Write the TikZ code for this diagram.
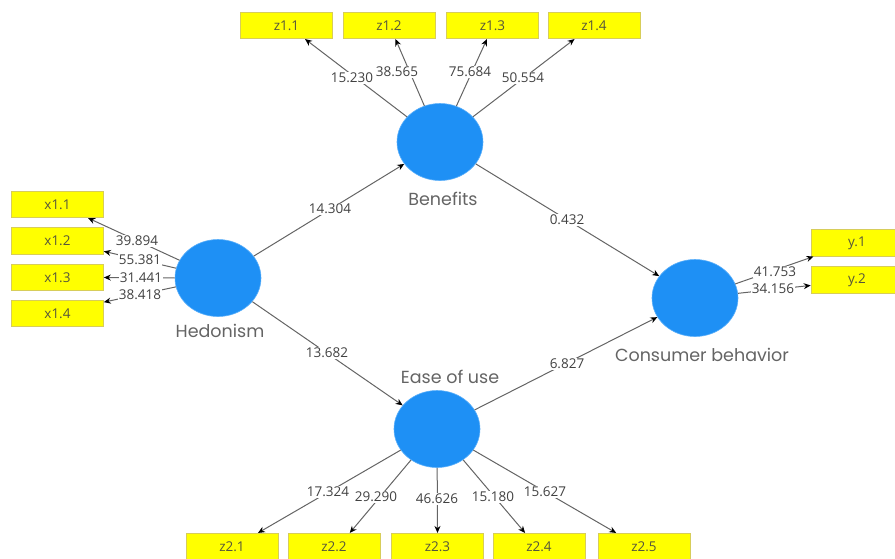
\documentclass[tikz,border=0pt]{standalone}
\usepackage{fontspec}
\setmainfont{Open Sans}
\newfontfamily\namefont{Poppins}
\usetikzlibrary{shapes.geometric,arrows.meta,calc}
\definecolor{lvblue}{RGB}{30,144,245}
\definecolor{lvedge}{RGB}{90,175,250}
\definecolor{boxyellow}{RGB}{255,255,0}
\definecolor{boxedge}{RGB}{215,205,90}
\definecolor{boxtext}{RGB}{85,85,60}
\definecolor{linegray}{RGB}{100,100,100}
\definecolor{labgray}{RGB}{65,65,65}
\definecolor{namegray}{RGB}{100,100,100}
\tikzset{
  latent/.style={ellipse, fill=lvblue, draw=lvedge, line width=0.6pt, minimum width=86pt, minimum height=77pt, inner sep=0pt},
  indbox/.style={rectangle, fill=boxyellow, draw=boxedge, line width=0.6pt, minimum width=92pt, minimum height=26.5pt, inner sep=0pt, text=boxtext, font=\fontsize{13.5}{15}\selectfont},
  wt/.style={fill=white, inner sep=1pt, text=labgray, font=\fontsize{13.5}{15}\selectfont},
  lvname/.style={text=namegray, font=\namefont\fontsize{17.5}{20}\selectfont},
  arr/.style={draw=linegray, line width=1pt, -{Stealth[length=7pt,width=6pt,color=black]}}
}
\begin{document}
\begin{tikzpicture}[x=1pt,y=-1pt]
\useasboundingbox (0,0) rectangle (895,558);
\clip (0,0) rectangle (895,558);
% latent variables
\node[latent] (ben) at (440,142) {};
\node[latent] (hed) at (218,278) {};
\node[latent] (ease) at (437,429) {};
\node[latent] (con) at (695,298) {};
\node[lvname] (benN) at (443,199) {Benefits};
\node[lvname] (hedN) at (220,331) {Hedonism};
\node[lvname] (easeN) at (450,377) {Ease of use};
\node[lvname] (conN) at (702,355) {Consumer behavior};
% indicator boxes
\node[indbox] (z11) at (286.5,25.5) {z1.1};
\node[indbox] (z12) at (389,25.5) {z1.2};
\node[indbox] (z13) at (492.5,25.5) {z1.3};
\node[indbox] (z14) at (594,25.5) {z1.4};
\node[indbox] (x11) at (57.5,204.5) {x1.1};
\node[indbox] (x12) at (57.5,241) {x1.2};
\node[indbox] (x13) at (57.5,277.5) {x1.3};
\node[indbox] (x14) at (57.5,313.5) {x1.4};
\node[indbox] (y1) at (857,243) {y.1};
\node[indbox] (y2) at (857,280) {y.2};
\node[indbox] (z21) at (232,546.5) {z2.1};
\node[indbox] (z22) at (334,546.5) {z2.2};
\node[indbox] (z23) at (437.5,546.5) {z2.3};
\node[indbox] (z24) at (539,546.5) {z2.4};
\node[indbox] (z25) at (644,546.5) {z2.5};
% structural paths
\draw[arr] (hed) -- (ben);
\draw[arr] (ben) -- (con);
\draw[arr] (hed) -- (ease);
\draw[arr] (ease) -- (con);
% outer loadings
\draw[arr] (ben) -- ($(z11.south west)!0.70!(z11.south east)$);
\draw[arr] (ben) -- ($(z12.south west)!0.57!(z12.south east)$);
\draw[arr] (ben) -- ($(z13.south west)!0.44!(z13.south east)$);
\draw[arr] (ben) -- ($(z14.south west)!0.29!(z14.south east)$);
\draw[arr] (hed) -- ($(x11.south west)!0.83!(x11.south east)$);
\draw[arr] (hed) -- ($(x12.north east)!0.88!(x12.south east)$);
\draw[arr] (hed) -- (x13.east);
\draw[arr] (hed) -- ($(x14.north east)!0.08!(x14.south east)$);
\draw[arr] (con) -- ($(y1.south west)!0.03!(y1.south east)$);
\draw[arr] (con) -- ($(y2.north west)!0.7!(y2.south west)$);
\draw[arr] (ease) -- ($(z21.north west)!0.78!(z21.north east)$);
\draw[arr] (ease) -- ($(z22.north west)!0.67!(z22.north east)$);
\draw[arr] (ease) -- ($(z23.north west)!0.5!(z23.north east)$);
\draw[arr] (ease) -- ($(z24.north west)!0.35!(z24.north east)$);
\draw[arr] (ease) -- ($(z25.north west)!0.2!(z25.north east)$);
% labels
\node[wt] (l1) at (330,209) {14.304};
\node[wt] (l2) at (567,220) {0.432};
\node[wt] (l3) at (327,353) {13.682};
\node[wt] (l4) at (567,364) {6.827};
\node[wt] (l5) at (352,78) {15.230};
\node[wt] (l6) at (397,72) {38.565};
\node[wt] (l7) at (470,72) {75.684};
\node[wt] (l8) at (523,78) {50.554};
\node[wt] (l9) at (137,241) {39.894};
\node[wt] (l10) at (140,260) {55.381};
\node[wt] (l11) at (141,278) {31.441};
\node[wt] (l12) at (140,295) {38.418};
\node[wt] (l13) at (775,272) {41.753};
\node[wt] (l14) at (773,289) {34.156};
\node[wt] (l15) at (328,492) {17.324};
\node[wt] (l16) at (376,497) {29.290};
\node[wt] (l17) at (437,499) {46.626};
\node[wt] (l18) at (493,497) {15.180};
\node[wt] (l19) at (545,492) {15.627};
\end{tikzpicture}
\end{document}
